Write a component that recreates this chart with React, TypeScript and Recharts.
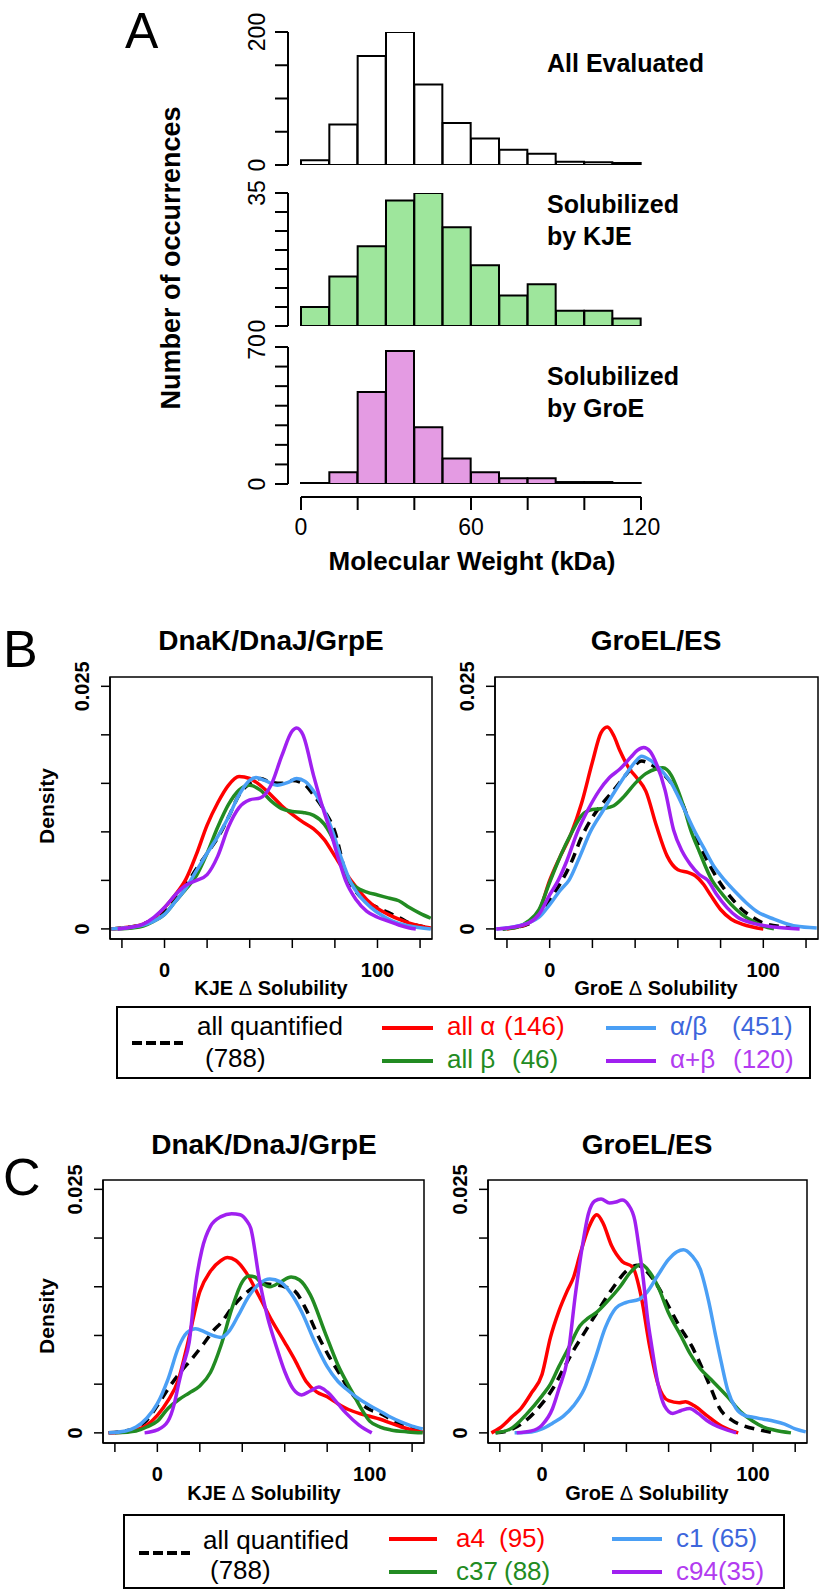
import React from "react";
import {
  BarChart,
  Bar,
  LineChart,
  Line,
  XAxis,
  YAxis,
  ReferenceArea,
} from "recharts";

const FONT = "'Liberation Sans', Arial, Helvetica, sans-serif";

// ---- Panel A: counts per 10 kDa bin ----
const mwBins = ["0-10", "10-20", "20-30", "30-40", "40-50", "50-60", "60-70", "70-80", "80-90", "90-100", "100-110", "110-120"];
const allEvaluated = [7, 61, 164, 200, 121, 63, 40, 23, 17, 5, 4, 3];
const solubilizedKJE = [5, 13, 21, 33, 35, 26, 16, 8, 11, 4, 4, 2];
const solubilizedGroE = [0, 6, 47, 68, 29, 13, 6, 3, 3, 1, 1, 0];
const mwTicks = [0, 20, 40, 60, 80, 100, 120];

// ---- Panel B: density by fold class, [x, density] ----
const bKjeAll = [[-25, 0], [-20, 0.0001], [-10, 0.0005], [-5, 0.001], [0, 0.0018], [5, 0.003], [10, 0.0045], [15, 0.0062], [20, 0.0078], [25, 0.0094], [30, 0.0115], [35, 0.0138], [40, 0.015], [45, 0.0155], [50, 0.0151], [55, 0.015], [60, 0.0153], [65, 0.015], [70, 0.0138], [75, 0.0122], [80, 0.01], [85, 0.0058], [90, 0.0038], [95, 0.0028], [100, 0.0022], [105, 0.0017], [110, 0.0012], [115, 0.0006], [120, 0.0003], [125, 0.0001]];
const bKjeAlpha = [[-25, 0], [-20, 0.0001], [-10, 0.0005], [-5, 0.0011], [0, 0.0022], [5, 0.0035], [10, 0.0051], [15, 0.0077], [20, 0.0107], [25, 0.013], [30, 0.0148], [35, 0.0157], [40, 0.0155], [45, 0.0148], [50, 0.0138], [55, 0.0127], [60, 0.0118], [65, 0.011], [70, 0.0103], [75, 0.0092], [80, 0.0075], [85, 0.0058], [90, 0.0043], [95, 0.003], [100, 0.0021], [105, 0.0015], [110, 0.001], [115, 0.0006], [120, 0.0003], [125, 0.0001]];
const bKjeBeta = [[-22, 0], [-15, 0.0001], [-10, 0.0003], [-5, 0.0008], [0, 0.0015], [5, 0.0028], [10, 0.0041], [15, 0.0055], [20, 0.0078], [25, 0.0105], [30, 0.0128], [35, 0.0143], [40, 0.0148], [45, 0.0143], [50, 0.0132], [55, 0.0124], [60, 0.0121], [65, 0.012], [70, 0.0117], [75, 0.0108], [80, 0.0088], [85, 0.0055], [90, 0.0043], [95, 0.0038], [100, 0.0035], [105, 0.0032], [110, 0.0029], [115, 0.0022], [120, 0.0016], [125, 0.0011]];
const bKjeAB = [[-25, 0], [-15, 0.0002], [-10, 0.0004], [-5, 0.0008], [0, 0.0015], [5, 0.0028], [10, 0.0042], [15, 0.006], [20, 0.0078], [25, 0.0095], [30, 0.0115], [35, 0.0138], [40, 0.0153], [43, 0.0156], [47, 0.0153], [53, 0.0148], [58, 0.0151], [62, 0.0155], [66, 0.0152], [70, 0.0142], [75, 0.0122], [79, 0.01], [83, 0.0073], [87, 0.005], [92, 0.0033], [97, 0.0022], [102, 0.0014], [107, 0.0008], [115, 0.0003], [125, 0]];
const bKjeAplusB = [[-22, 0], [-15, 0.0002], [-10, 0.0005], [-5, 0.0012], [0, 0.0022], [5, 0.0035], [10, 0.0045], [15, 0.005], [20, 0.0056], [25, 0.0075], [30, 0.0105], [35, 0.0125], [40, 0.0133], [45, 0.0135], [50, 0.0148], [55, 0.0178], [60, 0.0204], [62, 0.0207], [65, 0.02], [70, 0.0158], [75, 0.012], [78, 0.01], [82, 0.007], [85, 0.005], [90, 0.003], [95, 0.0018], [100, 0.0012], [105, 0.0008], [110, 0.0004], [115, 0.0001], [118, 0]];

const bGroAll = [[-22, 0], [-15, 0.0002], [-10, 0.0005], [-5, 0.0015], [0, 0.003], [5, 0.0047], [10, 0.0068], [15, 0.0095], [20, 0.0115], [25, 0.013], [30, 0.0143], [35, 0.0157], [40, 0.0169], [43, 0.0173], [47, 0.017], [52, 0.0162], [57, 0.015], [62, 0.013], [67, 0.01], [72, 0.0078], [79, 0.005], [85, 0.0032], [90, 0.002], [95, 0.0012], [100, 0.0006], [110, 0.0002], [118, 0]];
const bGroAlpha = [[-20, 0], [-15, 0.0002], [-10, 0.0006], [-5, 0.0018], [0, 0.005], [5, 0.0075], [10, 0.0098], [15, 0.013], [20, 0.0172], [24, 0.0202], [27, 0.0208], [30, 0.0199], [33, 0.0183], [37, 0.0166], [41, 0.0155], [45, 0.0142], [50, 0.0106], [55, 0.0075], [60, 0.0061], [65, 0.0058], [68, 0.0055], [72, 0.0046], [75, 0.0036], [80, 0.002], [85, 0.001], [90, 0.0005], [95, 0.0002], [100, 0]];
const bGroBeta = [[-22, 0], [-15, 0.0002], [-10, 0.0008], [-5, 0.002], [0, 0.0048], [5, 0.0075], [10, 0.0098], [15, 0.0117], [20, 0.0123], [25, 0.0124], [30, 0.0127], [35, 0.0137], [40, 0.015], [45, 0.016], [50, 0.0165], [53, 0.0166], [57, 0.0158], [60, 0.0143], [63, 0.0124], [66, 0.0102], [70, 0.008], [76, 0.005], [80, 0.0038], [85, 0.0025], [90, 0.0015], [95, 0.0008], [100, 0.0003], [105, 0]];
const bGroAB = [[-25, 0], [-15, 0.0003], [-5, 0.0012], [0, 0.0025], [5, 0.004], [9, 0.005], [14, 0.0074], [19, 0.01], [25, 0.0122], [30, 0.014], [35, 0.0157], [40, 0.0172], [43, 0.0178], [47, 0.0174], [52, 0.0164], [57, 0.015], [62, 0.0128], [68, 0.01], [72, 0.0084], [77, 0.0064], [82, 0.005], [87, 0.0038], [92, 0.0027], [97, 0.0018], [105, 0.001], [110, 0.0006], [115, 0.0003], [125, 0.0001]];
const bGroAplusB = [[-25, 0], [-20, 0.0001], [-10, 0.0006], [-5, 0.0015], [0, 0.0035], [4, 0.005], [8, 0.007], [13, 0.01], [18, 0.0123], [23, 0.0142], [28, 0.0156], [33, 0.0165], [38, 0.0177], [41, 0.0184], [44, 0.0187], [47, 0.0183], [50, 0.017], [54, 0.0143], [58, 0.0102], [62, 0.008], [66, 0.0066], [70, 0.0056], [74, 0.005], [78, 0.0036], [83, 0.0022], [88, 0.0012], [95, 0.0006], [105, 0.0002], [117, 0]];

// ---- Panel C: density by SCOP fold ----
const cKjeAll = [[-23, 0], [-15, 0.0002], [-10, 0.0005], [-5, 0.0013], [0, 0.0028], [5, 0.0045], [10, 0.006], [17, 0.0078], [22, 0.0092], [26, 0.0104], [30, 0.0113], [35, 0.0128], [40, 0.014], [45, 0.0149], [50, 0.0153], [55, 0.0152], [60, 0.015], [65, 0.0145], [70, 0.0127], [75, 0.0103], [81, 0.0078], [86, 0.006], [91, 0.0042], [96, 0.003], [100, 0.0024], [105, 0.002], [110, 0.0014], [115, 0.0008], [120, 0.0004], [125, 0.0001]];
const cKjeA4 = [[-23, 0], [-15, 0.0001], [-10, 0.0003], [-5, 0.0008], [0, 0.0018], [5, 0.0033], [10, 0.0055], [14, 0.0089], [20, 0.0145], [25, 0.0166], [30, 0.0177], [33, 0.018], [37, 0.0177], [42, 0.0164], [48, 0.014], [54, 0.0115], [60, 0.0093], [65, 0.0074], [70, 0.0053], [75, 0.0042], [80, 0.0037], [85, 0.003], [90, 0.0024], [95, 0.002], [100, 0.0017], [105, 0.0014], [110, 0.001], [115, 0.0006], [120, 0.0003], [125, 0.0001]];
const cKjeC37 = [[-20, 0], [-10, 0.0002], [-5, 0.0006], [0, 0.0012], [5, 0.0025], [10, 0.0034], [15, 0.0041], [20, 0.0048], [25, 0.0062], [30, 0.009], [35, 0.0127], [40, 0.0155], [43, 0.0161], [46, 0.016], [49, 0.0154], [53, 0.015], [58, 0.0155], [63, 0.016], [67, 0.0157], [72, 0.0142], [79, 0.0103], [85, 0.007], [92, 0.0041], [96, 0.0025], [100, 0.0012], [105, 0.0006], [110, 0.0003], [118, 0.0001], [125, 0]];
const cKjeC1 = [[-23, 0], [-15, 0.0002], [-10, 0.0006], [-5, 0.0015], [0, 0.003], [5, 0.0055], [10, 0.0088], [14, 0.0103], [18, 0.0107], [22, 0.0104], [26, 0.01], [30, 0.0098], [34, 0.0105], [38, 0.012], [43, 0.014], [48, 0.0153], [53, 0.0158], [58, 0.0155], [63, 0.0143], [68, 0.0124], [74, 0.0094], [80, 0.0068], [85, 0.0053], [89, 0.0045], [93, 0.0038], [100, 0.0028], [106, 0.0021], [110, 0.0016], [115, 0.0011], [120, 0.0007], [125, 0.0004]];
const cKjeC94 = [[-6, 0], [0, 0.0003], [5, 0.0012], [8, 0.003], [10, 0.005], [12, 0.0068], [15, 0.0093], [18, 0.0152], [21, 0.0188], [25, 0.0212], [30, 0.0222], [35, 0.0225], [39, 0.0224], [42, 0.0218], [44, 0.021], [48, 0.0158], [52, 0.0118], [56, 0.0089], [60, 0.0063], [64, 0.0045], [68, 0.0039], [72, 0.0043], [76, 0.0047], [80, 0.0042], [85, 0.003], [89, 0.002], [95, 0.0008], [101, 0]];

const cGroAll = [[-22, 0], [-15, 0.0003], [-8, 0.0012], [0, 0.003], [5, 0.0045], [10, 0.0065], [15, 0.0085], [19, 0.0099], [25, 0.012], [33, 0.0147], [41, 0.0168], [45, 0.0172], [50, 0.0165], [55, 0.015], [60, 0.013], [65, 0.011], [71, 0.0089], [76, 0.0066], [80, 0.0046], [84, 0.0026], [90, 0.0013], [96, 0.0007], [103, 0.0003], [110, 0]];
const cGroA4 = [[-24, 0], [-20, 0.0005], [-14, 0.0017], [-10, 0.0025], [-5, 0.0041], [0, 0.006], [4, 0.0098], [8, 0.0125], [12, 0.0146], [15, 0.016], [18, 0.0183], [22, 0.021], [26, 0.0224], [29, 0.0215], [33, 0.0192], [38, 0.0176], [43, 0.017], [47, 0.014], [51, 0.0089], [55, 0.005], [60, 0.0033], [65, 0.0031], [68, 0.0032], [72, 0.0028], [78, 0.0018], [85, 0.0007], [93, 0]];
const cGroC37 = [[-22, 0], [-15, 0.0004], [-7, 0.002], [0, 0.0038], [4, 0.005], [8, 0.0068], [13, 0.0089], [18, 0.011], [22, 0.0118], [26, 0.0124], [31, 0.0135], [37, 0.015], [42, 0.0165], [47, 0.0173], [51, 0.0165], [55, 0.015], [60, 0.0123], [66, 0.0099], [70, 0.0082], [75, 0.0066], [80, 0.0055], [88, 0.0037], [94, 0.0022], [100, 0.0012], [105, 0.0006], [110, 0.0003], [118, 0]];
const cGroC1 = [[-13, 0], [-5, 0.0001], [0, 0.0004], [5, 0.001], [10, 0.0017], [15, 0.0028], [20, 0.0045], [25, 0.0075], [30, 0.0108], [35, 0.0128], [40, 0.0134], [46, 0.0137], [50, 0.0145], [55, 0.0162], [60, 0.0178], [64, 0.0186], [67, 0.0188], [71, 0.0182], [75, 0.0168], [79, 0.0135], [82, 0.0103], [85, 0.0072], [88, 0.0044], [92, 0.0025], [96, 0.0018], [100, 0.0016], [105, 0.0014], [110, 0.0012], [115, 0.0009], [120, 0.0004], [125, 0.0001]];
const cGroC94 = [[-12, 0], [-5, 0.0002], [0, 0.0008], [5, 0.0025], [8, 0.0045], [12, 0.0075], [16, 0.0145], [19, 0.019], [22, 0.0225], [25, 0.0238], [28, 0.024], [32, 0.0236], [35, 0.0237], [38, 0.0239], [41, 0.0234], [44, 0.0218], [46, 0.019], [48, 0.0158], [50, 0.0118], [52, 0.0089], [55, 0.005], [58, 0.0028], [62, 0.002], [66, 0.0023], [70, 0.0025], [74, 0.002], [78, 0.0013], [85, 0.0005], [92, 0]];

const RED = "#ff0000";
const GREEN = "#228b22";
const BLUE = "#4a9ff5";
const PURPLE = "#a020f0";
const BLUE_TXT = "#3d66dc";
const PURPLE_TXT = "#b23cf0";

const X_DOMAIN: [number, number] = [-25.6, 125.6];
const Y_DOMAIN: [number, number] = [-0.00104, 0.02596];
const X_TICKS = [-20, 0, 20, 40, 60, 80, 100, 120];
const Y_TICKS = [0, 0.005, 0.01, 0.015, 0.02, 0.025];
const AXIS = { stroke: "#000", strokeWidth: 1.5 };

interface Curve {
  name: string;
  pts: number[][];
  color: string;
  dashed?: boolean;
}

const toPts = (arr: number[][]) => arr.map(([x, y]) => ({ x, y }));

const densityXTick = (props: any) => {
  const { x, y, payload } = props;
  if (payload.value !== 0 && payload.value !== 100) return <g />;
  return (
    <text x={x} y={y + 22} textAnchor="middle" dominantBaseline="central" fontFamily={FONT} fontWeight="bold" fontSize={20} fill="#000">
      {payload.value}
    </text>
  );
};

const densityYTick = (props: any) => {
  const { x, y, payload } = props;
  if (payload.value !== 0 && payload.value !== 0.025) return <g />;
  const cx = x - 19;
  return (
    <text x={cx} y={y} transform={`rotate(-90 ${cx} ${y})`} textAnchor="middle" dominantBaseline="central" fontFamily={FONT} fontWeight="bold" fontSize={20} fill="#000">
      {payload.value === 0 ? "0" : "0.025"}
    </text>
  );
};

const DensityPanel: React.FC<{ left: number; top: number; width: number; height: number; curves: Curve[] }> = ({ left, top, width, height, curves }) => {
  const YW = 60;
  const MT = 32;
  const MR = 12;
  const XH = 50;
  return (
    <div style={{ position: "absolute", left: left - YW, top: top - MT }}>
      <LineChart width={width + YW + MR} height={height + MT + XH} margin={{ top: MT, right: MR, left: 0, bottom: 0 }}>
        <XAxis type="number" dataKey="x" domain={X_DOMAIN} ticks={X_TICKS} allowDataOverflow interval={0} height={XH} tickSize={9} tickMargin={0} axisLine={AXIS} tickLine={AXIS} tick={densityXTick} />
        <YAxis type="number" domain={Y_DOMAIN} ticks={Y_TICKS} allowDataOverflow interval={0} width={YW} tickSize={9} tickMargin={0} axisLine={AXIS} tickLine={AXIS} tick={densityYTick} />
        <ReferenceArea x1={X_DOMAIN[0]} x2={X_DOMAIN[1]} y1={Y_DOMAIN[0]} y2={Y_DOMAIN[1]} fill="none" stroke="#000" strokeWidth={1.5} ifOverflow="visible" />
        {curves.map((c) => (
          <Line
            key={c.name}
            name={c.name}
            data={toPts(c.pts)}
            dataKey="y"
            type="monotone"
            stroke={c.color}
            strokeWidth={3.5}
            strokeDasharray={c.dashed ? "10 7" : undefined}
            dot={false}
            activeDot={false}
            isAnimationActive={false}
          />
        ))}
      </LineChart>
    </div>
  );
};

const histYTick = (max: number) => (props: any) => {
  const { x, y, payload } = props;
  if (payload.value !== 0 && payload.value !== max) return <g />;
  const cx = x - 18;
  return (
    <text x={cx} y={y} transform={`rotate(-90 ${cx} ${y})`} textAnchor="middle" dominantBaseline="central" fontFamily={FONT} fontSize={23} fill="#000">
      {payload.value}
    </text>
  );
};

const HIST_AXIS_X = 288;
const HIST_RIGHT = 641;

const Histogram: React.FC<{ top: number; bottom: number; counts: number[]; yMax: number; step: number; fill: string; minBar?: number }> = ({ top, bottom, counts, yMax, step, fill, minBar }) => {
  const data = mwBins.map((bin, i) => ({ bin, count: counts[i] }));
  const ticks: number[] = [];
  for (let v = 0; v <= yMax; v += step) ticks.push(v);
  const YW = 60;
  const MT = 24;
  const MB = 12;
  const MR = 4;
  return (
    <div style={{ position: "absolute", left: HIST_AXIS_X - YW, top: top - MT }}>
      <BarChart width={YW + (HIST_RIGHT - HIST_AXIS_X) + MR} height={MT + (bottom - top) + MB} data={data} margin={{ top: MT, right: MR, left: 0, bottom: MB }} barCategoryGap={0} barGap={0}>
        <XAxis dataKey="bin" hide padding={{ left: 13, right: 0 }} />
        <YAxis type="number" domain={[0, yMax]} ticks={ticks} allowDataOverflow interval={0} width={YW} tickSize={13} tickMargin={0} axisLine={{ stroke: "#000", strokeWidth: 2 }} tickLine={{ stroke: "#000", strokeWidth: 2 }} tick={histYTick(yMax)} />
        <Bar dataKey="count" fill={fill} stroke="#000" strokeWidth={2} minPointSize={minBar} isAnimationActive={false} />
      </BarChart>
    </div>
  );
};

const mwXTick = (props: any) => {
  const { x, y, payload } = props;
  if (![0, 60, 120].includes(payload.value)) return <g />;
  return (
    <text x={x} y={y + 17} textAnchor="middle" dominantBaseline="central" fontFamily={FONT} fontSize={23} fill="#000">
      {payload.value}
    </text>
  );
};

const MwAxis: React.FC = () => {
  const data = mwBins.map((bin, i) => ({ mw: i * 10 + 5 }));
  return (
    <div style={{ position: "absolute", left: 301 - 20, top: 497 - 2 }}>
      <LineChart width={20 + 340 + 25} height={50} data={data} margin={{ top: 1, right: 25, left: 20, bottom: 0 }}>
        <XAxis type="number" dataKey="mw" domain={[0, 120]} ticks={mwTicks} allowDataOverflow interval={0} height={48} tickSize={13} tickMargin={0} axisLine={{ stroke: "#000", strokeWidth: 2 }} tickLine={{ stroke: "#000", strokeWidth: 2 }} tick={mwXTick} />
        <YAxis hide domain={[0, 1]} />
      </LineChart>
    </div>
  );
};

const bKje: Curve[] = [
  { name: "all quantified", pts: bKjeAll, color: "#000", dashed: true },
  { name: "all alpha", pts: bKjeAlpha, color: RED },
  { name: "all beta", pts: bKjeBeta, color: GREEN },
  { name: "alpha/beta", pts: bKjeAB, color: BLUE },
  { name: "alpha+beta", pts: bKjeAplusB, color: PURPLE },
];
const bGro: Curve[] = [
  { name: "all quantified", pts: bGroAll, color: "#000", dashed: true },
  { name: "all alpha", pts: bGroAlpha, color: RED },
  { name: "all beta", pts: bGroBeta, color: GREEN },
  { name: "alpha/beta", pts: bGroAB, color: BLUE },
  { name: "alpha+beta", pts: bGroAplusB, color: PURPLE },
];
const cKje: Curve[] = [
  { name: "all quantified", pts: cKjeAll, color: "#000", dashed: true },
  { name: "a4", pts: cKjeA4, color: RED },
  { name: "c37", pts: cKjeC37, color: GREEN },
  { name: "c1", pts: cKjeC1, color: BLUE },
  { name: "c94", pts: cKjeC94, color: PURPLE },
];
const cGro: Curve[] = [
  { name: "all quantified", pts: cGroAll, color: "#000", dashed: true },
  { name: "a4", pts: cGroA4, color: RED },
  { name: "c37", pts: cGroC37, color: GREEN },
  { name: "c1", pts: cGroC1, color: BLUE },
  { name: "c94", pts: cGroC94, color: PURPLE },
];

const T = (p: any) => <text fontFamily={FONT} fill="#000" {...p} />;

const App: React.FC = () => {
  return (
    <div style={{ position: "absolute", left: 0, top: 0, width: 820, height: 1590, background: "#fff", overflow: "hidden" }}>
      <Histogram top={32} bottom={165} counts={allEvaluated} yMax={200} step={50} fill="#ffffff" />
      <Histogram top={193} bottom={326} counts={solubilizedKJE} yMax={35} step={5} fill="#9ee69c" />
      <Histogram top={347} bottom={484} counts={solubilizedGroE} yMax={70} step={10} fill="#e49be3" minBar={1} />
      <MwAxis />

      <DensityPanel left={110} top={677} width={322} height={262} curves={bKje} />
      <DensityPanel left={495} top={677} width={323} height={262} curves={bGro} />
      <DensityPanel left={103} top={1180} width={321} height={263} curves={cKje} />
      <DensityPanel left={488} top={1180} width={319} height={263} curves={cGro} />

      <svg width={820} height={1590} style={{ position: "absolute", left: 0, top: 0, pointerEvents: "none" }}>
        {/* panel A labels */}
        <T x={125} y={48} fontSize={50}>A</T>
        <T transform="translate(180 258) rotate(-90)" textAnchor="middle" fontSize={27} fontWeight="bold">Number of occurrences</T>
        <T x={547} y={72} fontSize={25} fontWeight="bold">All Evaluated</T>
        <T x={547} y={213} fontSize={25} fontWeight="bold">Solubilized</T>
        <T x={547} y={245} fontSize={25} fontWeight="bold">by KJE</T>
        <T x={547} y={385} fontSize={25} fontWeight="bold">Solubilized</T>
        <T x={547} y={417} fontSize={25} fontWeight="bold">by GroE</T>
        <T x={472} y={570} textAnchor="middle" fontSize={26} fontWeight="bold">Molecular Weight (kDa)</T>

        {/* panel B labels */}
        <T x={3} y={667} fontSize={52}>B</T>
        <T x={271} y={650} textAnchor="middle" fontSize={28} fontWeight="bold">DnaK/DnaJ/GrpE</T>
        <T x={656} y={650} textAnchor="middle" fontSize={28} fontWeight="bold">GroEL/ES</T>
        <T transform="translate(54 806) rotate(-90)" textAnchor="middle" fontSize={21} fontWeight="bold">Density</T>
        <T x={271} y={995} textAnchor="middle" fontSize={20} fontWeight="bold">KJE <tspan fontWeight="normal">Δ</tspan> Solubility</T>
        <T x={656} y={995} textAnchor="middle" fontSize={20} fontWeight="bold">GroE <tspan fontWeight="normal">Δ</tspan> Solubility</T>

        <rect x={117} y={1007} width={693} height={71} fill="none" stroke="#000" strokeWidth={2} />
        <line x1={132} y1={1043} x2={183} y2={1043} stroke="#000" strokeWidth={4} strokeDasharray="10 4" />
        <T x={197} y={1035} fontSize={26}>all quantified</T>
        <T x={205} y={1067} fontSize={26}>(788)</T>
        <line x1={382} y1={1028} x2={433} y2={1028} stroke={RED} strokeWidth={4} />
        <T x={447} y={1035} fontSize={26} fill={RED}>all α</T>
        <T x={504} y={1035} fontSize={26} fill={RED}>(146)</T>
        <line x1={382} y1={1061} x2={433} y2={1061} stroke={GREEN} strokeWidth={4} />
        <T x={447} y={1068} fontSize={26} fill={GREEN}>all β</T>
        <T x={512} y={1068} fontSize={26} fill={GREEN}>(46)</T>
        <line x1={606} y1={1028} x2={656} y2={1028} stroke={BLUE} strokeWidth={4} />
        <T x={670} y={1035} fontSize={26} fill={BLUE_TXT}>α/β</T>
        <T x={732} y={1035} fontSize={26} fill={BLUE_TXT}>(451)</T>
        <line x1={606} y1={1061} x2={656} y2={1061} stroke={PURPLE} strokeWidth={4} />
        <T x={670} y={1068} fontSize={26} fill={PURPLE_TXT}>α+β</T>
        <T x={733} y={1068} fontSize={26} fill={PURPLE_TXT}>(120)</T>

        {/* panel C labels */}
        <T x={3} y={1195} fontSize={52}>C</T>
        <T x={264} y={1154} textAnchor="middle" fontSize={28} fontWeight="bold">DnaK/DnaJ/GrpE</T>
        <T x={647} y={1154} textAnchor="middle" fontSize={28} fontWeight="bold">GroEL/ES</T>
        <T transform="translate(54 1316) rotate(-90)" textAnchor="middle" fontSize={21} fontWeight="bold">Density</T>
        <T x={264} y={1500} textAnchor="middle" fontSize={20} fontWeight="bold">KJE <tspan fontWeight="normal">Δ</tspan> Solubility</T>
        <T x={647} y={1500} textAnchor="middle" fontSize={20} fontWeight="bold">GroE <tspan fontWeight="normal">Δ</tspan> Solubility</T>

        <rect x={124} y={1515} width={660} height={73} fill="none" stroke="#000" strokeWidth={2} />
        <line x1={139} y1={1553} x2={190} y2={1553} stroke="#000" strokeWidth={4} strokeDasharray="10 4" />
        <T x={203} y={1549} fontSize={26}>all quantified</T>
        <T x={210} y={1579} fontSize={26}>(788)</T>
        <line x1={389} y1={1539} x2={437} y2={1539} stroke={RED} strokeWidth={4} />
        <T x={456} y={1547} fontSize={26} fill={RED}>a4</T>
        <T x={499} y={1547} fontSize={26} fill={RED}>(95)</T>
        <line x1={389} y1={1572} x2={437} y2={1572} stroke={GREEN} strokeWidth={4} />
        <T x={456} y={1580} fontSize={26} fill={GREEN}>c37</T>
        <T x={504} y={1580} fontSize={26} fill={GREEN}>(88)</T>
        <line x1={612} y1={1539} x2={662} y2={1539} stroke={BLUE} strokeWidth={4} />
        <T x={676} y={1547} fontSize={26} fill={BLUE_TXT}>c1</T>
        <T x={711} y={1547} fontSize={26} fill={BLUE_TXT}>(65)</T>
        <line x1={612} y1={1572} x2={662} y2={1572} stroke={PURPLE} strokeWidth={4} />
        <T x={676} y={1580} fontSize={26} fill={PURPLE_TXT}>c94(35)</T>
      </svg>
    </div>
  );
};

export default App;
